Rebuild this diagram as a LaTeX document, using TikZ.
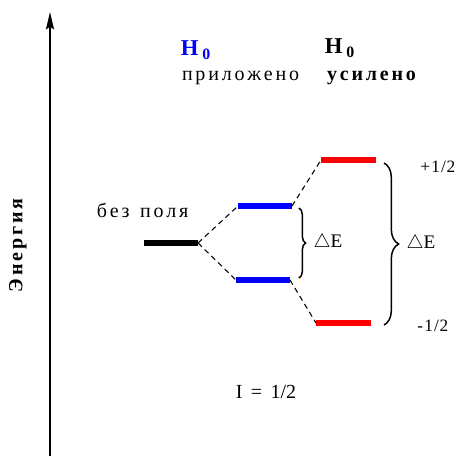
\documentclass[tikz,border=0pt]{standalone}
\usepackage{fontspec}
\setmainfont{Liberation Serif}
\usetikzlibrary{arrows.meta,decorations.pathreplacing}
\makeatletter
\def\spaced#1{\spaced@loop#1\relax}
\def\spaced@loop#1{\ifx#1\relax\else#1\kern0.14em\expandafter\spaced@loop\fi}
\makeatother

\begin{document}
\begin{tikzpicture}[x=0.75pt,y=-0.75pt,
  txt/.style={font=\fontsize{15}{17}\selectfont},
  txtb/.style={font=\bfseries\fontsize{15}{17}\selectfont},
  spin/.style={font=\fontsize{13}{15}\selectfont, anchor=west, inner sep=0pt},
  level/.style={line width=4.5pt},
  link/.style={line width=0.8pt, dash pattern=on 4pt off 3pt},
  brace/.style={decorate,decoration={brace,amplitude=#1},line width=1.1pt}]
\useasboundingbox (0,0) rectangle (462,457);
% axis
\coordinate (ax0) at (50,456);
\coordinate (ax1) at (50,12);
\draw[line width=1.5pt,-{Stealth[length=13pt,width=6pt,inset=2pt]}] (ax0) -- (ax1);
\node[txtb, rotate=90] (energy) at (18,244) {\spaced{Энергия}};
% levels
\coordinate (z0) at (144,243); \coordinate (z1) at (198,243);
\coordinate (u0) at (238,206); \coordinate (u1) at (292,206);
\coordinate (l0) at (236,280); \coordinate (l1) at (290,280);
\coordinate (p0) at (321,160); \coordinate (p1) at (376,160);
\coordinate (m0) at (316,323); \coordinate (m1) at (371,323);
\draw[level, black] (z0) -- (z1);
\draw[level, blue] (u0) -- (u1);
\draw[level, blue] (l0) -- (l1);
\draw[level, red] (p0) -- (p1);
\draw[level, red] (m0) -- (m1);
\draw[link] (z1) -- (u0);
\draw[link] (z1) -- (l0);
\draw[link] (u1) -- (p0);
\draw[link] (l1) -- (m0);
% splittings
\coordinate (sb0) at (299,208); \coordinate (sb1) at (299,278);
\coordinate (bb0) at (384,163); \coordinate (bb1) at (384,325);
\draw[brace=5pt] (sb0) -- (sb1) node[midway, right=7pt, txt] (dEa) {\Large$\triangle$E};
\draw[brace=11pt] (bb0) -- (bb1) node[midway, right=13pt, txt] (dEb) {\Large$\triangle$E};
% labels
\node[txt] (nofield) at (144,210) {\spaced{без~поля}};
\node[txtb, text=blue, font=\bfseries\fontsize{17}{19}\selectfont] (hA) at (196,50) {H\,\textsubscript{0}};
\node[txt] (applied) at (242,78) {\spaced{приложено}};
\node[txtb, font=\bfseries\fontsize{17}{19}\selectfont] (hB) at (340,48) {H\,\textsubscript{0}};
\node[txtb] (strong) at (373,78) {\spaced{усилено}};
\node[spin] (up) at (420,167) {+\kern0.08em1\kern0.06em/\kern0.04em2};
\node[spin] (down) at (417,326) {-\kern0.08em1\kern0.06em/\kern0.04em2};
\node[txt] (spinI) at (266,392) {I \,=\, 1/2};
\end{tikzpicture}
\end{document}
